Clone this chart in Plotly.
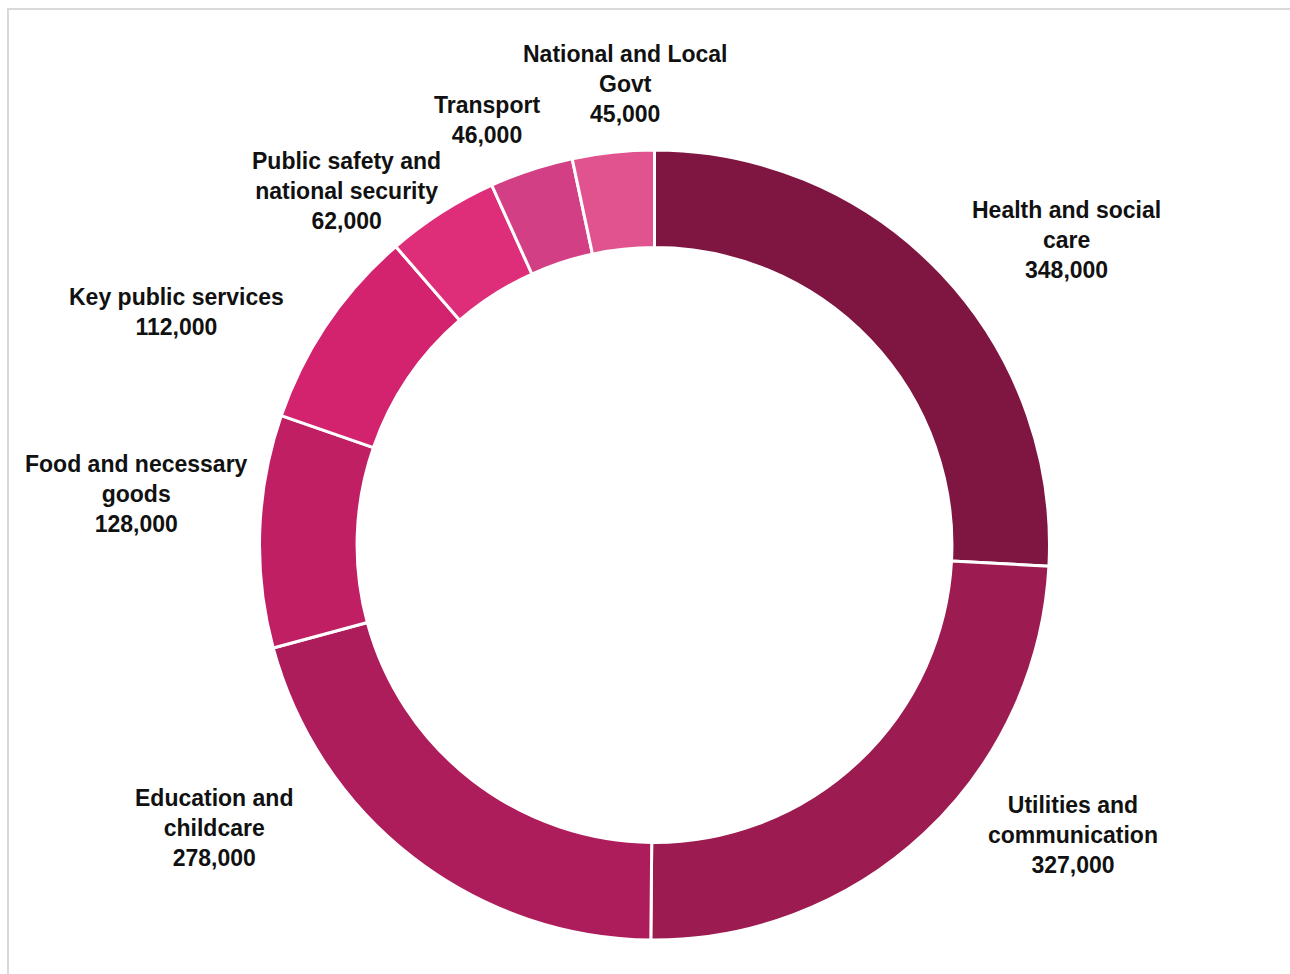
import plotly.graph_objects as go

categories = [
    "Health and social care",
    "Utilities and communication",
    "Education and childcare",
    "Food and necessary goods",
    "Key public services",
    "Public safety and national security",
    "Transport",
    "National and Local Govt",
]
values = [348000, 327000, 278000, 128000, 112000, 62000, 46000, 45000]
label_lines = [
    ["Health and social", "care"],
    ["Utilities and", "communication"],
    ["Education and", "childcare"],
    ["Food and necessary", "goods"],
    ["Key public services"],
    ["Public safety and", "national security"],
    ["Transport"],
    ["National and Local", "Govt"],
]
colors = ["#7f1642", "#9c1b50", "#ae1d5b", "#c01f63",
          "#d3236f", "#de2d79", "#d33f85", "#e0538e"]

W, H = 1290, 974
# label centre positions in pixels (x, y of middle of text block)
label_pos = [
    (1066, 240), (1073, 835), (214, 828), (136, 494),
    (176, 311.5), (346, 191), (487, 120.5), (625, 84),
]

fig = go.Figure(go.Pie(
    labels=categories,
    values=values,
    hole=0.753,
    sort=False,
    direction="clockwise",
    rotation=0,
    textinfo="none",
    hoverinfo="label+value",
    marker=dict(colors=colors, line=dict(color="white", width=3)),
    domain=dict(x=[259 / W, 1050 / W], y=[1 - 940 / H, 1 - 150 / H]),
    showlegend=False,
))

for lines, v, (px, py) in zip(label_lines, values, label_pos):
    text = "<br>".join(lines + [f"{v:,}"])
    fig.add_annotation(
        x=px / W, y=1 - py / H, xref="paper", yref="paper",
        text=text, showarrow=False, xanchor="center", yanchor="middle",
        align="center",
        font=dict(family="Liberation Sans, Arial, sans-serif", size=23,
                  color="#111111", weight="bold"),
    )

fig.add_shape(type="rect", xref="paper", yref="paper",
              x0=8 / W, x1=1.2, y0=-0.2, y1=1 - 9 / H,
              line=dict(color="#d9d9d9", width=2), fillcolor="rgba(0,0,0,0)")

fig.update_layout(
    width=W, height=H,
    margin=dict(l=0, r=0, t=0, b=0),
    paper_bgcolor="white", plot_bgcolor="white",
)

fig.write_html("out.html")
